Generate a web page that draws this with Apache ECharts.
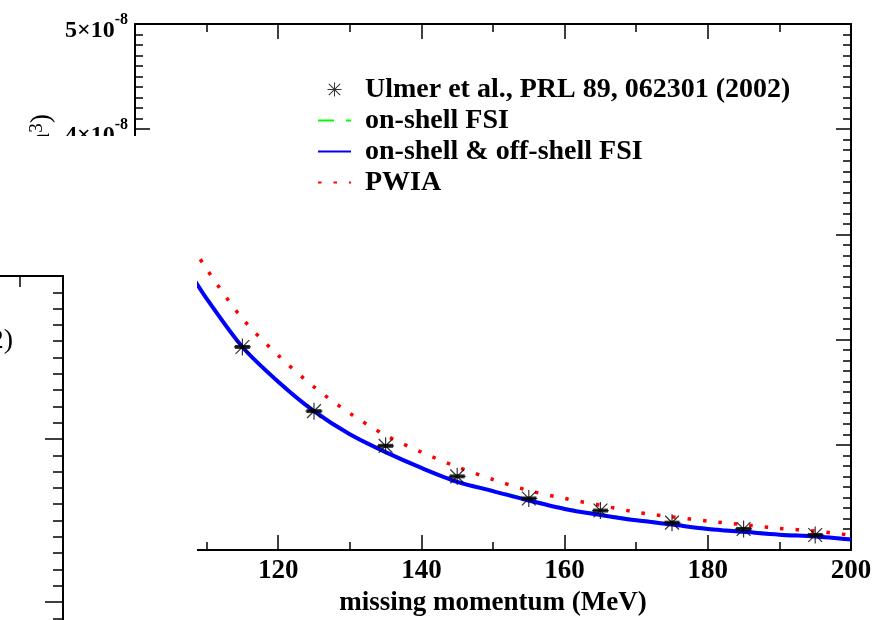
<!DOCTYPE html>
<html>
<head>
<meta charset="utf-8">
<script src="https://cdn.jsdelivr.net/npm/echarts@6/dist/echarts.min.js"></script>
<style>
  html, body { margin: 0; padding: 0; background: #ffffff; }
  #chart { width: 885px; height: 620px; }
</style>
</head>
<body>
<div id="chart"></div>
<script>
// Momentum grid of the calculated curves (MeV)
const momentumGrid = [108, 110, 115, 120, 125, 130, 135, 140, 145, 150, 155, 160, 165, 170, 175, 180, 185, 190, 195, 200];
// Curves, in units of 1e-8
const onShellFSI =    [2.60, 2.39, 1.93, 1.60, 1.32, 1.10, 0.93, 0.78, 0.650, 0.565, 0.475, 0.395, 0.338, 0.288, 0.246, 0.205, 0.177, 0.150, 0.131, 0.103];
const onOffShellFSI = [2.60, 2.39, 1.93, 1.60, 1.32, 1.10, 0.93, 0.78, 0.648, 0.560, 0.470, 0.390, 0.333, 0.282, 0.242, 0.200, 0.173, 0.146, 0.128, 0.100];
const pwia =          [2.89, 2.67, 2.20, 1.85, 1.55, 1.30, 1.09, 0.93, 0.790, 0.670, 0.565, 0.490, 0.425, 0.360, 0.315, 0.275, 0.240, 0.205, 0.180, 0.140];
// Measured points (Ulmer et al.), units of 1e-8
const dataMomentum = [115, 125, 135, 145, 155, 165, 175, 185, 195];
const dataValues =   [1.93, 1.32, 0.99, 0.70, 0.49, 0.375, 0.26, 0.20, 0.143];
// Axis ranges and tick steps
const xRange = [100, 200], xStep = 20;
const yRange = [0, 5], yStep = 1, yExponent = -8;

const seriesNames = ['Ulmer et al., PRL 89, 062301 (2002)', 'on-shell FSI', 'on-shell & off-shell FSI', 'PWIA'];

const serif = '"Liberation Serif", "Times New Roman", serif';
const asterisk = 'path://M9.3,0h1.4v20h-1.4z M0,9.3h20v1.4h-20z M2.4,1.4L18.6,17.6L17.6,18.6L1.4,2.4z M17.6,1.4L18.6,2.4L2.4,18.6L1.4,17.6z';

const zip = (xs, ys) => xs.map((x, i) => [x, ys[i]]);

const chart = echarts.init(document.getElementById('chart'));

const frameLine = { show: true, onZero: false, lineStyle: { color: '#000', width: 2 } };
const tickMajor = { show: true, inside: true, length: 15, lineStyle: { color: '#000', width: 1.5 } };
const tickMinor = { show: true, length: 8, lineStyle: { color: '#000', width: 1.5 } };

chart.setOption({
  animation: false,
  backgroundColor: '#ffffff',
  grid: [
    { left: 135, right: 34, top: 24, bottom: 70, outerBoundsMode: 'none', containLabel: false },
    // neighbouring panel, only its top-right corner is on the page
    { left: -280, top: 276, width: 343, height: 652, outerBoundsMode: 'none', containLabel: false }
  ],
  legend: {
    data: [
      { name: seriesNames[0] },
      { name: seriesNames[1], itemStyle: { opacity: 0 } },
      { name: seriesNames[2], itemStyle: { opacity: 0 } },
      { name: seriesNames[3], itemStyle: { opacity: 0 } }
    ],
    orient: 'vertical',
    left: 317,
    top: 74,
    padding: 0,
    itemWidth: 33,
    itemHeight: 14,
    itemGap: 0,
    textStyle: { fontFamily: serif, fontWeight: 'bold', fontSize: 28, color: '#000', lineHeight: 31, padding: [0, 0, 0, 9] },
    inactiveColor: '#000'
  },
  xAxis: [
    {
      gridIndex: 0, type: 'value', position: 'bottom',
      min: xRange[0], max: xRange[1], interval: xStep,
      axisLine: frameLine, axisTick: tickMajor,
      minorTick: Object.assign({ splitNumber: 2 }, tickMinor),
      splitLine: { show: false },
      axisLabel: { fontFamily: serif, fontWeight: 'bold', fontSize: 27, color: '#000', margin: 8 },
      name: 'missing momentum (MeV)', nameLocation: 'middle', nameGap: 40,
      nameTextStyle: { fontFamily: serif, fontWeight: 'bold', fontSize: 27, color: '#000' }
    },
    {
      gridIndex: 0, type: 'value', position: 'top',
      min: xRange[0], max: xRange[1], interval: xStep,
      axisLine: frameLine, axisTick: tickMajor,
      minorTick: Object.assign({ splitNumber: 2 }, tickMinor),
      splitLine: { show: false }, axisLabel: { show: false }
    },
    {
      gridIndex: 1, type: 'value', position: 'top', z: 110,
      min: 0, max: 3.43, interval: 1,
      axisLine: frameLine,
      axisTick: { show: true, inside: true, length: 11, lineStyle: { color: '#000', width: 1.5 } },
      splitLine: { show: false }, axisLabel: { show: false }
    }
  ],
  yAxis: [
    {
      gridIndex: 0, type: 'value', position: 'left',
      min: yRange[0], max: yRange[1], interval: yStep,
      axisLine: frameLine, axisTick: tickMajor,
      minorTick: Object.assign({ splitNumber: 10 }, tickMinor),
      splitLine: { show: false },
      axisLabel: {
        margin: 7,
        formatter: v => v === 0 ? '{m|0}' : `{m|${v}×10}{s|${yExponent}}`,
        rich: {
          m: { fontFamily: serif, fontWeight: 'bold', fontSize: 24, color: '#000', lineHeight: 24, padding: [14, 0, 0, 0] },
          s: { fontFamily: serif, fontWeight: 'bold', fontSize: 16, color: '#000', lineHeight: 16, verticalAlign: 'top' }
        }
      }
    },
    {
      gridIndex: 0, type: 'value', position: 'right',
      min: yRange[0], max: yRange[1], interval: yStep,
      axisLine: frameLine, axisTick: tickMajor,
      minorTick: Object.assign({ splitNumber: 10 }, tickMinor),
      splitLine: { show: false }, axisLabel: { show: false }
    },
    {
      gridIndex: 1, type: 'value', position: 'right', inverse: true, z: 110,
      min: 0, max: 4, interval: 1,
      axisLine: frameLine,
      axisTick: { show: true, inside: true, length: 18, lineStyle: { color: '#000', width: 1.5 } },
      minorTick: { show: true, splitNumber: 10, length: 10, lineStyle: { color: '#000', width: 1.5 } },
      splitLine: { show: false }, axisLabel: { show: false }
    }
  ],
  graphic: [
    {
      // rotated y-axis title of the main panel
      type: 'text', z: 50, x: 42, y: 114, rotation: Math.PI / 2,
      style: {
        text: '{m|n(p}{s|m}{m|) (fm}{s|3}{m|)}',
        align: 'right', verticalAlign: 'middle',
        rich: {
          m: { fontFamily: serif, fontSize: 28, fill: '#000' },
          s: { fontFamily: serif, fontSize: 19, fill: '#000', verticalAlign: 'top' }
        }
      }
    },
    {
      // neighbouring panel's blank area lying over the lower-left part
      type: 'rect', z: 100,
      shape: { x: 0, y: 136, width: 197, height: 484 },
      style: { fill: '#ffffff' }
    },
    {
      type: 'text', z: 120, x: 13, y: 341,
      style: {
        text: '(2002)', align: 'right', verticalAlign: 'middle',
        font: '28px ' + serif, fill: '#000'
      }
    }
  ],
  series: [
    {
      name: seriesNames[0], type: 'scatter', xAxisIndex: 0, yAxisIndex: 0,
      data: zip(dataMomentum, dataValues),
      symbol: asterisk, symbolSize: 17, z: 6,
      itemStyle: { color: '#000' }
    },
    {
      name: 'error bars', type: 'scatter', xAxisIndex: 0, yAxisIndex: 0,
      data: zip(dataMomentum, dataValues),
      symbol: 'rect', symbolSize: [15, 4], z: 5,
      itemStyle: { color: '#000' }
    },
    {
      name: seriesNames[1], type: 'line', xAxisIndex: 0, yAxisIndex: 0,
      data: zip(momentumGrid, onShellFSI), smooth: 0.3,
      symbol: 'none', z: 2,
      lineStyle: { color: '#00ff00', width: 3, type: [16, 12] },
      itemStyle: { color: '#00ff00' }
    },
    {
      name: seriesNames[2], type: 'line', xAxisIndex: 0, yAxisIndex: 0,
      data: zip(momentumGrid, onOffShellFSI), smooth: 0.3,
      symbol: 'none', z: 3,
      lineStyle: { color: '#0000ff', width: 4 },
      itemStyle: { color: '#0000ff' }
    },
    {
      name: seriesNames[3], type: 'line', xAxisIndex: 0, yAxisIndex: 0,
      data: zip(momentumGrid, pwia), smooth: 0.3,
      symbol: 'none', z: 3,
      lineStyle: { color: '#ff0000', width: 3.5, type: [3.5, 12], cap: 'butt' },
      itemStyle: { color: '#ff0000' }
    }
  ]
});
</script>
</body>
</html>
